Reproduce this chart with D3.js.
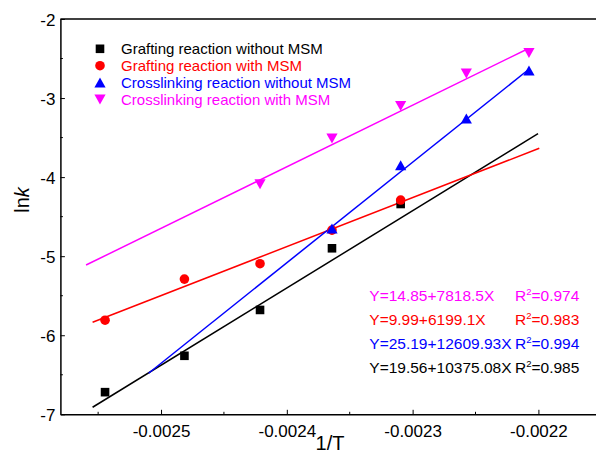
<!DOCTYPE html>
<html>
<head>
<meta charset="utf-8">
<script src="https://cdn.jsdelivr.net/npm/d3@7"></script>
<style>
  html, body { margin: 0; padding: 0; background: #fff; }
  svg { display: block; font-family: "Liberation Sans", Arial, sans-serif; }
</style>
</head>
<body>
<figure id="chart" style="margin:0"></figure>
<script>
// 1/T values (negative, as plotted)
const invT = [-0.0025445, -0.0024814, -0.0024213, -0.0023641, -0.0023095, -0.0022573, -0.0022075];

// lnk values
const graftNoMSM = [-6.72, -6.26, -5.68, -4.90, -4.34];      // invT[0..4]
const graftMSM = [-5.81, -5.29, -5.095, -4.67, -4.29];       // invT[0..4]
const crossNoMSM = [-4.65, -3.85, -3.26, -2.65];             // invT[3..6]
const crossMSM = [-4.09, -3.51, -3.10, -2.69, -2.43];        // invT[2..6]

// linear fit lines, start and end [1/T, lnk]
const fitGraftNoMSM = [[-0.0025544, -6.911], [-0.0022003, -3.451]];
const fitGraftMSM = [[-0.0025544, -5.836], [-0.0021993, -3.635]];
const fitCrossNoMSM = [[-0.0025099, -6.481], [-0.0022083, -2.645]];
const fitCrossMSM = [[-0.0025596, -5.112], [-0.0022083, -2.376]];

const legendLabels = [
  'Grafting reaction without MSM',
  'Grafting reaction with MSM',
  'Crosslinking reaction without MSM',
  'Crosslinking reaction with MSM'
];
const equations = ['Y=14.85+7818.5X', 'Y=9.99+6199.1X', 'Y=25.19+12609.93X', 'Y=19.56+10375.08X'];
const rSquared = ['0.974', '0.983', '0.994', '0.985'];
const equationColors = ['#ff00ff', '#ff0000', '#0000ff', '#000000'];

const xTicks = [-0.0025, -0.0024, -0.0023, -0.0022];
const yTicks = [-7, -6, -5, -4, -3, -2];

const width = 596, height = 454;

const svg = d3.select('#chart').append('svg')
  .attr('width', width)
  .attr('height', height);

const x = d3.scaleLinear().domain([-0.00258, -0.00215]).range([60.4, 601.3]);
const y = d3.scaleLinear().domain([-7, -2]).range([414.3, 19]);

// symbol paths centred on their bounding box
function symbolPath(kind) {
  if (kind === 'square') return 'M-4.3,-4.3H4.3V4.3H-4.3Z';
  if (kind === 'circle') return d3.symbol(d3.symbolCircle, Math.PI * 4.8 * 4.8)();
  if (kind === 'up') return 'M0,-5L5.6,5H-5.6Z';
  return 'M0,5L5.6,-5H-5.6Z';
}

const series = [
  { name: legendLabels[0], color: '#000000', shape: 'square', xs: invT.slice(0, 5), ys: graftNoMSM, fit: fitGraftNoMSM },
  { name: legendLabels[1], color: '#ff0000', shape: 'circle', xs: invT.slice(0, 5), ys: graftMSM, fit: fitGraftMSM },
  { name: legendLabels[2], color: '#0000ff', shape: 'up', xs: invT.slice(3, 7), ys: crossNoMSM, fit: fitCrossNoMSM },
  { name: legendLabels[3], color: '#ff00ff', shape: 'down', xs: invT.slice(2, 7), ys: crossMSM, fit: fitCrossMSM }
];

// fit lines
const line = d3.line().x(d => x(d[0])).y(d => y(d[1]));
series.forEach(s => {
  svg.append('path')
    .datum(s.fit)
    .attr('fill', 'none')
    .attr('stroke', s.color)
    .attr('stroke-width', 1.5)
    .attr('d', line);
});

// points
series.forEach(s => {
  svg.selectAll(null)
    .data(s.xs.map((v, i) => [v, s.ys[i]]))
    .enter()
    .append('path')
    .attr('d', symbolPath(s.shape))
    .attr('transform', d => `translate(${x(d[0])},${y(d[1])})`)
    .attr('fill', s.color);
});

// axes: ticks point inward, plain hyphen for minus
const xMinor = d3.range(-0.00255, -0.00215, 0.0001);
const yMinor = d3.range(-6.5, -2, 1);

const xAxis = svg.append('g').attr('transform', `translate(0,${y(-7)})`);
xAxis.call(d3.axisBottom(x).tickValues(xTicks).tickSizeInner(-4.5).tickSizeOuter(0)
  .tickFormat(d => d.toFixed(4)).tickPadding(10.5));
xAxis.select('.domain').attr('stroke-width', 1.5);
xAxis.selectAll('text').attr('font-size', 17).attr('fill', '#000').attr('font-family', null);

svg.append('g').selectAll('line')
  .data(xMinor)
  .enter().append('line')
  .attr('x1', d => x(d)).attr('x2', d => x(d))
  .attr('y1', y(-7)).attr('y2', y(-7) - 2.5)
  .attr('stroke', '#000');

const yAxis = svg.append('g').attr('transform', `translate(${x(-0.00258)},0)`);
yAxis.call(d3.axisLeft(y).tickValues(yTicks).tickSizeInner(-4.5).tickSizeOuter(0)
  .tickFormat(d => String(d)).tickPadding(5));
yAxis.select('.domain').attr('stroke-width', 1.5);
yAxis.selectAll('text').attr('font-size', 17).attr('fill', '#000').attr('font-family', null)
  .attr('dy', '0.36em');

svg.append('g').selectAll('line')
  .data(yMinor)
  .enter().append('line')
  .attr('x1', x(-0.00258)).attr('x2', x(-0.00258) + 2.5)
  .attr('y1', d => y(d)).attr('y2', d => y(d))
  .attr('stroke', '#000');

// top and right frame
svg.append('line')
  .attr('x1', x(-0.00258)).attr('x2', x(-0.00215))
  .attr('y1', y(-2)).attr('y2', y(-2))
  .attr('stroke', '#000').attr('stroke-width', 1.5);
svg.append('line')
  .attr('x1', x(-0.00215)).attr('x2', x(-0.00215))
  .attr('y1', y(-2)).attr('y2', y(-7))
  .attr('stroke', '#000').attr('stroke-width', 1.5);

// axis titles
svg.append('text')
  .attr('x', 330).attr('y', 450)
  .attr('text-anchor', 'middle')
  .attr('font-size', 20)
  .text('1/T');

const yTitle = svg.append('text')
  .attr('transform', 'translate(29,200) rotate(-90)')
  .attr('text-anchor', 'middle')
  .attr('font-size', 20);
yTitle.append('tspan').text('ln');
yTitle.append('tspan').attr('font-style', 'italic').text('k');

// legend
const legend = svg.append('g');
series.forEach((s, i) => {
  const cy = 48.8 + i * 16.9;
  legend.append('path')
    .attr('d', symbolPath(s.shape))
    .attr('transform', `translate(100,${cy})`)
    .attr('fill', s.color);
  legend.append('text')
    .attr('x', 121).attr('y', cy + 5)
    .attr('font-size', 15)
    .attr('fill', s.color)
    .text(s.name);
});

// fit equations
equations.forEach((eq, i) => {
  const by = 300.5 + i * 24;
  svg.append('text')
    .attr('x', 369.3).attr('y', by)
    .attr('font-size', 15.5)
    .attr('fill', equationColors[i])
    .text(eq);
  const r = svg.append('text')
    .attr('x', 515).attr('y', by)
    .attr('font-size', 15.5)
    .attr('fill', equationColors[i]);
  r.append('tspan').text('R');
  r.append('tspan').attr('font-size', 9.5).attr('dy', -6).text('2');
  r.append('tspan').attr('dy', 6).text('=' + rSquared[i]);
});
</script>
</body>
</html>
